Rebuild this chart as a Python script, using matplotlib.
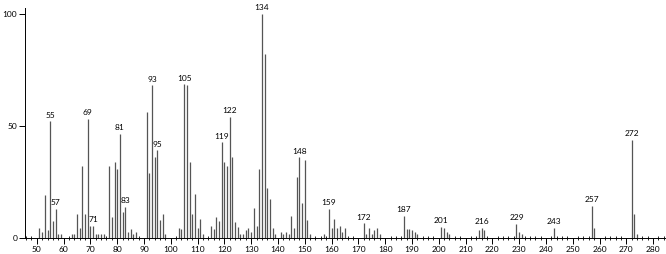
import matplotlib.pyplot as plt

# m/z values and relative intensities
mz = [51, 52, 53, 54, 55, 56, 57, 58, 59, 63, 64, 65, 66, 67, 68, 69, 70, 71,
      72, 73, 74, 75, 77, 78, 79, 80, 81, 82, 83, 84, 85, 86, 87,
      91, 92, 93, 94, 95, 96, 97, 98,
      103, 104, 105, 106, 107, 108, 109, 110, 111, 112,
      115, 116, 117, 118, 119, 120, 121, 122, 123, 124, 125, 126, 127, 128, 129, 130,
      131, 132, 133, 134, 135, 136, 137, 138, 139,
      141, 142, 143, 144, 145, 146, 147, 148, 149, 150, 151, 152, 157,
      159, 160, 161, 162, 163, 164, 165,
      172, 173, 174, 175, 176, 177, 178,
      187, 188, 189, 190, 191, 192,
      201, 202, 203, 204, 215, 216, 217,
      229, 230, 231, 243, 257, 258, 272, 273, 274]
intensity = [4.5, 2.8, 19, 3.6, 52, 7.7, 13, 1.6, 1.6, 1.6, 1.6, 10.5, 4.6, 32, 10.5, 53, 5.5, 5.5,
             1.6, 1.6, 1.6, 1.6, 32, 9.4, 34, 30.7, 46.5, 11.6, 14, 2.8, 4, 1.6, 2.5,
             56, 29, 68, 36, 39, 8, 10.5, 1.6,
             4.3, 4, 68.5, 68, 33.7, 10.5, 19.5, 4.6, 8.5, 1.6,
             5.3, 4, 9.4, 7.6, 42.6, 33.7, 32, 54, 36, 7, 4.9, 1.6, 1.6, 3.6, 4.6, 2.8,
             13.5, 5.5, 30.6, 100, 82, 22.4, 17.4, 4.6, 1.6,
             2.5, 1.6, 2.5, 1.6, 9.8, 4.6, 27, 36, 15.6, 34.6, 8, 1.6, 1.6,
             13, 4.6, 8.5, 4.6, 5.5, 2.5, 4.6,
             6.5, 1.6, 4.6, 1.6, 3.6, 4.6, 1.6,
             9.8, 4, 4, 3.6, 2.8, 1.6,
             4.9, 4.6, 2.5, 1.6, 3.6, 4.6, 3.6,
             6.4, 2.5, 1.6, 4.6, 14.4, 4.6, 43.7, 10.5, 1.6]

labeled = [55, 57, 69, 71, 81, 83, 93, 95, 105, 119, 122, 134, 148,
           159, 172, 187, 201, 216, 229, 243, 257, 272]

plt.rcParams['font.family'] = ['Lato', 'DejaVu Sans']

fig = plt.figure(figsize=(6.66, 2.54), dpi=100)
ax = fig.add_axes([25 / 666, 16 / 254, 641 / 666, 230 / 254])

ax.vlines(mz, 0, intensity, color='#555555', lw=0.9)

lookup = dict(zip(mz, intensity))
for m in labeled:
    ax.text(m, lookup[m] + 1.2, str(m), ha='center', va='bottom', fontsize=6)

ax.set_xlim(45.6, 284.8)
ax.set_ylim(0, 102.5)
ax.set_xticks(range(50, 290, 10))
ax.set_xticks(range(46, 286, 2), minor=True)
ax.set_yticks([0, 50, 100])
ax.tick_params(axis='both', which='major', direction='out', length=4, width=0.7,
               labelsize=6, pad=1.5)
ax.tick_params(axis='x', which='minor', direction='inout', length=3, width=0.6)

for side in ['top', 'right']:
    ax.spines[side].set_visible(False)
for side in ['left', 'bottom']:
    ax.spines[side].set_linewidth(0.7)

fig.savefig('out.png', dpi=100)
